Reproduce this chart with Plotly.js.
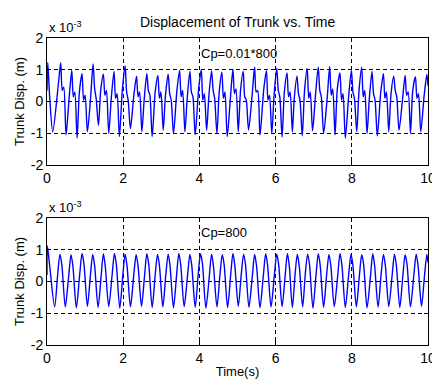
<!DOCTYPE html>
<html>
<head>
<meta charset="utf-8">
<script src="https://cdn.plot.ly/plotly-3.0.1.min.js"></script>
<style>html,body{margin:0;padding:0;background:#fff;}#chart{width:432px;height:383px;}</style>
</head>
<body>
<div id="chart"></div>
<script>
// Displacement values are in units of 1e-3 m (axis shows "x 10^-3")
var topTime = [0, 0.02, 0.07, 0.15,
  0.29, 0.36, 0.40, 0.44, 0.50,
  0.58, 0.65, 0.69, 0.73, 0.79,
  0.85, 0.92, 0.96, 1.00, 1.06,
  1.14, 1.21, 1.25, 1.29, 1.35,
  1.41, 1.48, 1.52, 1.56, 1.62,
  1.69, 1.76, 1.80, 1.84, 1.90,
  1.98, 2.05, 2.09, 2.13, 2.19,
  2.28, 2.35, 2.39, 2.43, 2.49,
  2.55, 2.62, 2.66, 2.70, 2.76,
  2.84, 2.91, 2.95, 2.99, 3.05,
  3.11, 3.18, 3.22, 3.26, 3.32,
  3.41, 3.48, 3.52, 3.56, 3.62,
  3.68, 3.75, 3.79, 3.83, 3.89,
  3.98, 4.05, 4.09, 4.13, 4.19,
  4.25, 4.32, 4.36, 4.40, 4.46,
  4.52, 4.59, 4.63, 4.67, 4.73,
  4.81, 4.88, 4.92, 4.96, 5.02,
  5.08, 5.15, 5.19, 5.23, 5.29,
  5.38, 5.45, 5.49, 5.53, 5.59,
  5.69, 5.76, 5.80, 5.84, 5.90,
  5.96, 6.03, 6.07, 6.11, 6.17,
  6.23, 6.30, 6.34, 6.38, 6.44,
  6.49, 6.56, 6.60, 6.64, 6.70,
  6.76, 6.83, 6.87, 6.91, 6.97,
  7.05, 7.12, 7.16, 7.20, 7.26,
  7.35, 7.42, 7.46, 7.50, 7.56,
  7.62, 7.69, 7.73, 7.77, 7.83,
  7.92, 7.99, 8.03, 8.07, 8.13,
  8.19, 8.26, 8.30, 8.34, 8.40,
  8.46, 8.53, 8.57, 8.61, 8.67,
  8.76, 8.83, 8.87, 8.91, 8.97,
  9.03, 9.10, 9.14, 9.18, 9.24,
  9.33, 9.40, 9.44, 9.48, 9.54,
  9.60, 9.67, 9.71, 9.75, 9.81,
  9.90, 9.97, 10.00];
var topDisp = [0.35, 1.22, 0.15, -0.95,
  0.45, 1.22, 0.35, 0.45, -1.05,
  0.10, 0.98, 0.15, 0.30, -1.15,
  0.30, 0.88, 0.05, 0.20, -0.95,
  0.05, 1.18, 0.40, 0.10, -0.75,
  0.35, 0.86, 0.20, 0.35, -1.00,
  0.15, 0.95, 0.10, 0.25, -1.10,
  0.40, 1.12, 0.30, 0.05, -0.85,
  0.20, 0.80, 0.15, 0.30, -0.95,
  0.05, 0.88, 0.35, 0.20, -1.10,
  0.30, 0.82, 0.10, 0.30, -0.90,
  0.20, 0.86, 0.25, 0.05, -1.00,
  0.35, 0.98, 0.15, 0.35, -0.95,
  0.10, 0.95, 0.30, 0.15, -1.05,
  0.40, 1.00, 0.05, 0.25, -0.90,
  0.20, 0.96, 0.35, 0.10, -1.00,
  0.30, 0.92, 0.10, 0.30, -1.10,
  0.05, 1.02, 0.25, 0.40, -0.95,
  0.35, 0.95, 0.15, 0.05, -0.90,
  0.15, 1.08, 0.30, 0.35, -1.05,
  0.40, 0.97, 0.05, 0.20, -1.00,
  0.20, 1.05, 0.35, 0.15, -1.12,
  0.30, 0.90, 0.15, 0.30, -0.95,
  0.10, 0.80, 0.25, 0.05, -1.08,
  0.35, 1.04, 0.10, 0.30, -0.92,
  0.25, 1.08, 0.35, 0.15, -1.00,
  0.05, 1.10, 0.20, 0.40, -1.05,
  0.40, 0.90, 0.05, 0.25, -1.15,
  0.20, 0.98, 0.30, 0.10, -0.95,
  0.35, 1.08, 0.15, 0.35, -1.00,
  0.10, 0.95, 0.25, 0.05, -1.08,
  0.30, 0.88, 0.10, 0.30, -0.95,
  0.25, 0.80, 0.35, 0.15, -0.90,
  0.05, 0.82, 0.20, 0.30, -1.00,
  0.35, 0.78, 0.10, 0.25, -0.95,
  0.20, 0.85, 0.50];

var bottomTime = [0, 0.01, 0.07, 0.20,
  0.28, 0.34, 0.39, 0.48,
  0.57, 0.63, 0.68, 0.77,
  0.86, 0.92, 0.97, 1.06,
  1.14, 1.20, 1.25, 1.34,
  1.42, 1.48, 1.53, 1.62,
  1.71, 1.77, 1.82, 1.91,
  1.99, 2.05, 2.10, 2.19,
  2.28, 2.34, 2.39, 2.48,
  2.56, 2.62, 2.67, 2.76,
  2.84, 2.90, 2.95, 3.04,
  3.12, 3.18, 3.23, 3.32,
  3.40, 3.46, 3.51, 3.60,
  3.69, 3.75, 3.80, 3.89,
  3.97, 4.03, 4.08, 4.17,
  4.26, 4.32, 4.37, 4.46,
  4.54, 4.60, 4.65, 4.74,
  4.82, 4.88, 4.93, 5.02,
  5.10, 5.16, 5.21, 5.30,
  5.39, 5.45, 5.50, 5.59,
  5.68, 5.74, 5.79, 5.88,
  5.97, 6.03, 6.08, 6.17,
  6.25, 6.31, 6.36, 6.44,
  6.51, 6.57, 6.62, 6.71,
  6.78, 6.84, 6.89, 6.98,
  7.06, 7.12, 7.17, 7.26,
  7.34, 7.40, 7.45, 7.54,
  7.63, 7.69, 7.74, 7.83,
  7.92, 7.98, 8.03, 8.12,
  8.20, 8.26, 8.31, 8.40,
  8.49, 8.55, 8.60, 8.69,
  8.77, 8.83, 8.88, 8.97,
  9.06, 9.12, 9.17, 9.26,
  9.34, 9.40, 9.45, 9.54,
  9.63, 9.69, 9.74, 9.83,
  9.91, 9.97, 10.00];
var bottomDisp = [0.20, 1.12, 0.50, -0.80,
  0.22, 0.86, 0.52, -0.80,
  0.18, 0.84, 0.48, -0.83,
  0.25, 0.88, 0.55, -0.78,
  0.20, 0.85, 0.50, -0.82,
  0.15, 0.87, 0.47, -0.79,
  0.22, 0.88, 0.53, -0.84,
  0.19, 0.86, 0.50, -0.80,
  0.24, 0.84, 0.49, -0.78,
  0.17, 0.87, 0.54, -0.82,
  0.21, 0.85, 0.51, -0.80,
  0.23, 0.86, 0.48, -0.83,
  0.18, 0.88, 0.52, -0.79,
  0.20, 0.85, 0.50, -0.81,
  0.25, 0.87, 0.55, -0.84,
  0.16, 0.86, 0.47, -0.80,
  0.22, 0.84, 0.52, -0.82,
  0.19, 0.88, 0.50, -0.78,
  0.24, 0.86, 0.53, -0.81,
  0.18, 0.85, 0.49, -0.83,
  0.21, 0.87, 0.51, -0.80,
  0.23, 0.86, 0.54, -0.79,
  0.17, 0.88, 0.48, -0.82,
  0.20, 0.85, 0.50, -0.80,
  0.25, 0.86, 0.53, -0.84,
  0.19, 0.87, 0.51, -0.81,
  0.22, 0.85, 0.49, -0.79,
  0.18, 0.88, 0.52, -0.82,
  0.24, 0.86, 0.50, -0.80,
  0.20, 0.84, 0.54, -0.83,
  0.16, 0.87, 0.48, -0.81,
  0.23, 0.85, 0.51, -0.79,
  0.21, 0.86, 0.50, -0.82,
  0.18, 0.84, 0.53, -0.80,
  0.22, 0.86, 0.49, -0.78,
  0.20, 0.85, 0.60];

var xTicks = [0, 2, 4, 6, 8, 10];
var yTicks = [-2, -1, 0, 1, 2];
var titleText = 'Displacement of Trunk vs. Time';
var topLabel = 'Cp=0.01*800';
var bottomLabel = 'Cp=800';
var yTitle = 'Trunk Disp. (m)';
var xTitle = 'Time(s)';

var FONT = 'Liberation Sans, Arial, Helvetica, sans-serif';

var traces = [
  {x: topTime, y: topDisp, xaxis: 'x', yaxis: 'y', type: 'scatter', mode: 'lines',
   line: {color: '#0000ff', width: 1.4, shape: 'spline', smoothing: 0.8}, hoverinfo: 'skip'},
  {x: bottomTime, y: bottomDisp, xaxis: 'x2', yaxis: 'y2', type: 'scatter', mode: 'lines',
   line: {color: '#0000ff', width: 1.4, shape: 'spline', smoothing: 0.8}, hoverinfo: 'skip'}
];

function xAxis(anchor, withTitle) {
  var a = {
    anchor: anchor, domain: [0, 1], range: [0, 10],
    tickmode: 'array', tickvals: xTicks, ticktext: xTicks.map(String),
    ticklabeloverflow: 'allow',
    showline: true, linecolor: 'black', linewidth: 1, mirror: 'ticks',
    ticks: 'inside', ticklen: 4, tickcolor: 'black',
    showgrid: true, gridcolor: 'black', gridwidth: 1, griddash: '4px,3px',
    zeroline: false, tickfont: {family: FONT, size: 14, color: 'black'}
  };
  if (withTitle) a.title = {text: xTitle, font: {family: FONT, size: 13, color: 'black'}, standoff: 2};
  return a;
}
function yAxis(anchor, domain) {
  return {
    anchor: anchor, domain: domain, range: [-2, 2],
    tickmode: 'array', tickvals: yTicks, ticktext: yTicks.map(String),
    showline: true, linecolor: 'black', linewidth: 1, mirror: 'ticks',
    ticks: 'inside', ticklen: 4, tickcolor: 'black',
    showgrid: true, gridcolor: 'black', gridwidth: 1, griddash: '4px,3px',
    zeroline: false, tickfont: {family: FONT, size: 14, color: 'black'},
    title: {text: yTitle, font: {family: FONT, size: 13, color: 'black'}, standoff: 3}
  };
}

var layout = {
  width: 432, height: 383,
  margin: {l: 47, r: 4, t: 38, b: 38},
  paper_bgcolor: 'white', plot_bgcolor: 'white',
  showlegend: false,
  font: {family: FONT, size: 13, color: 'black'},
  xaxis: xAxis('y', false),
  yaxis: yAxis('x', [0.586, 1]),
  xaxis2: xAxis('y2', true),
  yaxis2: yAxis('x2', [0, 0.414]),
  annotations: [
    {text: titleText, xref: 'paper', yref: 'paper', x: 0.5, y: 1.052, xanchor: 'center', yanchor: 'middle', showarrow: false, font: {family: FONT, size: 14, color: 'black'}},
    {text: 'x 10<sup>-3</sup>', xref: 'paper', yref: 'paper', x: 0, y: 1.035, xanchor: 'left', yanchor: 'middle', showarrow: false, font: {family: FONT, size: 13, color: 'black'}},
    {text: 'x 10<sup>-3</sup>', xref: 'paper', yref: 'paper', x: 0, y: 0.448, xanchor: 'left', yanchor: 'middle', showarrow: false, font: {family: FONT, size: 13, color: 'black'}},
    {text: topLabel, xref: 'paper', yref: 'paper', x: 0.399, y: 0.951, xanchor: 'left', yanchor: 'middle', showarrow: false, font: {family: FONT, size: 13, color: 'black'}},
    {text: bottomLabel, xref: 'paper', yref: 'paper', x: 0.399, y: 0.368, xanchor: 'left', yanchor: 'middle', showarrow: false, font: {family: FONT, size: 13, color: 'black'}}
  ]
};

Plotly.newPlot('chart', traces, layout, {staticPlot: true, displayModeBar: false});
</script>
</body>
</html>
